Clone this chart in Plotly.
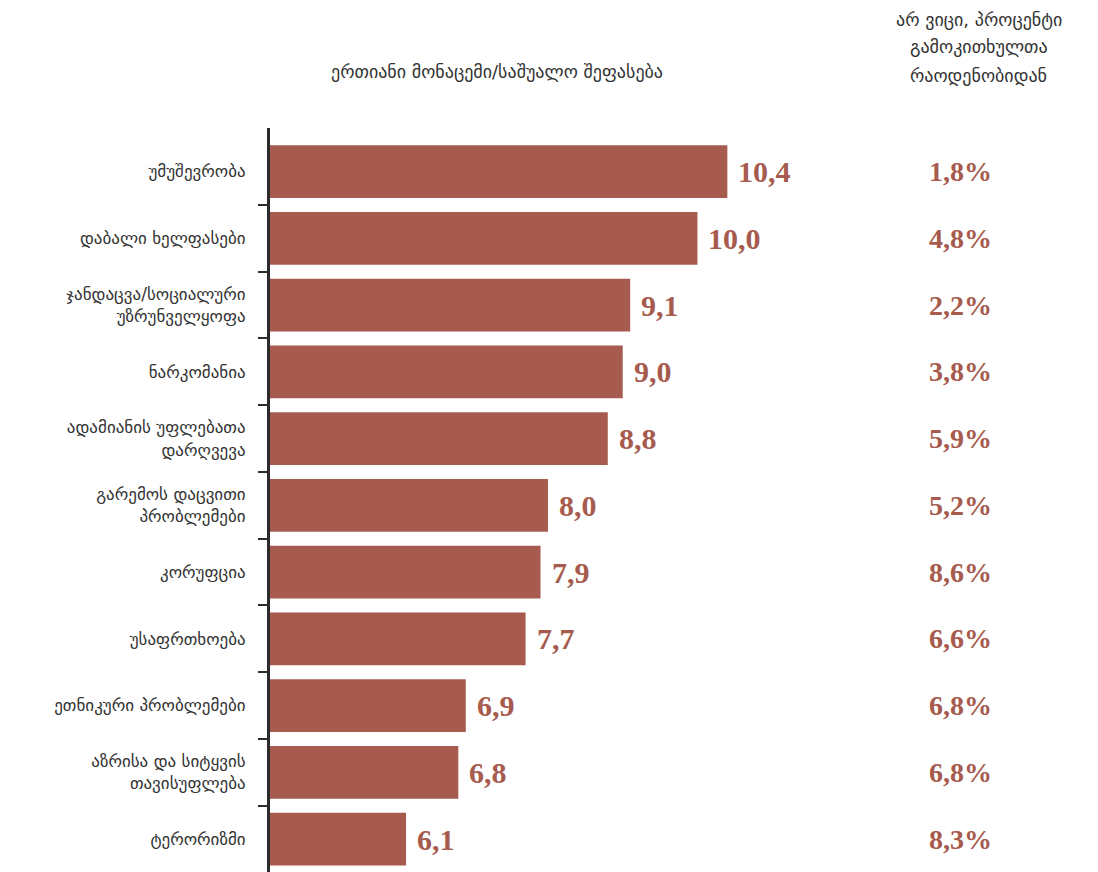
import plotly.graph_objects as go

# Issues ranked by average score, with the share of "don't know" answers
categories = [
    "უმუშევრობა",
    "დაბალი ხელფასები",
    "ჯანდაცვა/სოციალური<br>უზრუნველყოფა",
    "ნარკომანია",
    "ადამიანის უფლებათა<br>დარღვევა",
    "გარემოს დაცვითი<br>პრობლემები",
    "კორუფცია",
    "უსაფრთხოება",
    "ეთნიკური პრობლემები",
    "აზრისა და სიტყვის<br>თავისუფლება",
    "ტერორიზმი",
]
mean_scores = [10.4, 10.0, 9.1, 9.0, 8.8, 8.0, 7.9, 7.7, 6.9, 6.8, 6.1]
dont_know_pct = [1.8, 4.8, 2.2, 3.8, 5.9, 5.2, 8.6, 6.6, 6.8, 6.8, 8.3]

header_scores = "ერთიანი მონაცემი/საშუალო შეფასება"
header_dont_know = ["არ ვიცი, პროცენტი", "გამოკითხულთა", "რაოდენობიდან"]

BAR_COLOR = "#A65B4E"
TEXT_COLOR = "#333333"
SANS = "DejaVu Sans"
SERIF = "Liberation Serif"


def fmt(v):
    return f"{v:.1f}".replace(".", ",")


positions = list(range(len(categories)))

fig = go.Figure(
    go.Bar(
        x=mean_scores,
        y=positions,
        orientation="h",
        marker=dict(color=BAR_COLOR, line=dict(width=0)),
        width=0.79,
        hoverinfo="skip",
    )
)

annotations = []
for pos, v, p in zip(positions, mean_scores, dont_know_pct):
    annotations.append(dict(
        x=v, y=pos, xref="x", yref="y", text=fmt(v), showarrow=False,
        xanchor="left", yanchor="middle", xshift=9,
        font=dict(family=SERIF, size=30, color=BAR_COLOR, weight="bold"),
    ))
    annotations.append(dict(
        x=0.8345, y=pos, xref="paper", yref="y", text=fmt(p) + "%", showarrow=False,
        xanchor="center", yanchor="middle",
        font=dict(family=SERIF, size=28, color=BAR_COLOR, weight="bold"),
    ))

annotations.append(dict(
    x=0.274, y=1.0753, xref="paper", yref="paper", text=header_scores,
    showarrow=False, xanchor="center", yanchor="middle",
    font=dict(family=SANS, size=18, color=TEXT_COLOR),
))
for yy, line in zip([1.1452, 1.1089, 1.0712], header_dont_know):
    annotations.append(dict(
        x=0.856, y=yy, xref="paper", yref="paper", text=line,
        showarrow=False, xanchor="center", yanchor="middle",
        font=dict(family=SANS, size=18, color=TEXT_COLOR),
    ))

boundaries = [i + 0.5 for i in positions[:-1]]

fig.update_layout(
    width=1098,
    height=872,
    margin=dict(l=270, r=0, t=128, b=0),
    paper_bgcolor="white",
    plot_bgcolor="white",
    showlegend=False,
    bargap=0.2,
    annotations=annotations,
    xaxis=dict(
        range=[4.28, 15.36],
        showgrid=False, zeroline=False, showline=False,
        showticklabels=False, ticks="",
    ),
    yaxis=dict(
        range=[10.494, -0.652],
        tickmode="array",
        tickvals=positions,
        ticktext=categories,
        ticks="",
        ticklabelstandoff=18,
        tickfont=dict(family=SANS, size=17, color=TEXT_COLOR),
        showgrid=False, zeroline=False,
        showline=True, linecolor="#2B2B2B", linewidth=3,
        minor=dict(
            tickmode="array", tickvals=boundaries,
            ticks="outside", ticklen=9, tickwidth=2, tickcolor="#2B2B2B",
            showgrid=False,
        ),
    ),
)

fig.write_html("out.html")
